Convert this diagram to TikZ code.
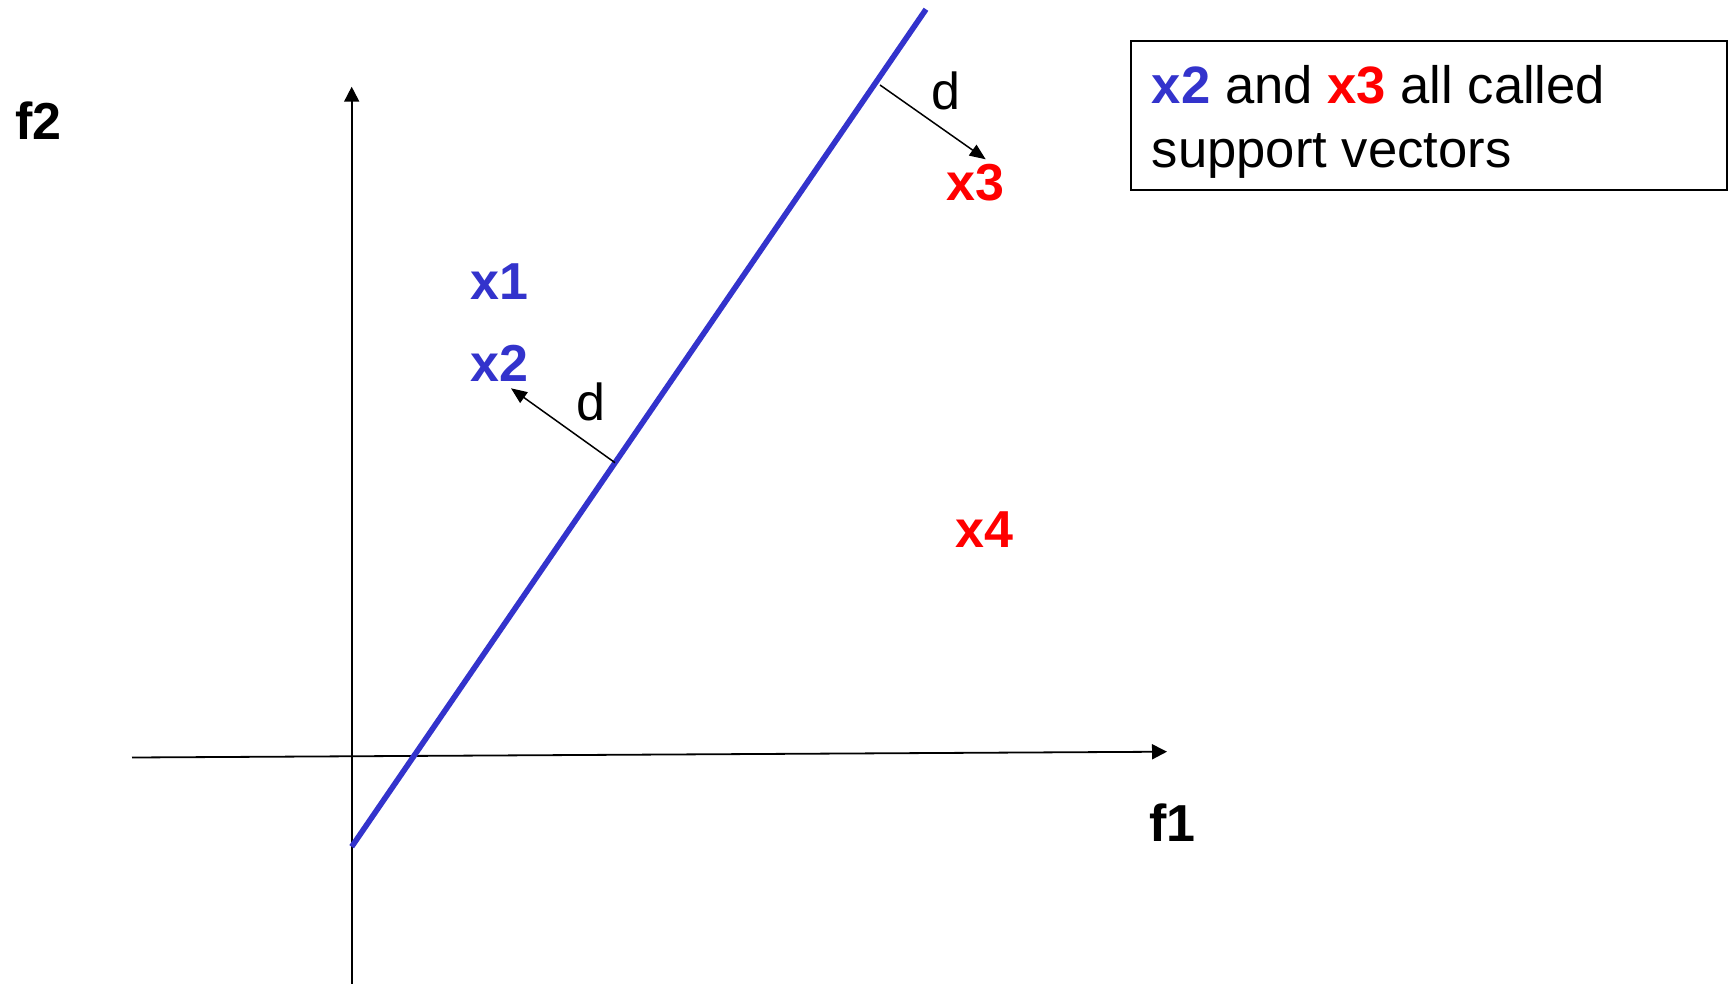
\documentclass[tikz,border=0pt]{standalone}
\usepackage{fontspec}
\setmainfont{Liberation Sans}
\usetikzlibrary{arrows.meta}
\definecolor{svblue}{RGB}{51,51,204}
\definecolor{svred}{RGB}{255,0,0}
\tikzset{
  lbl/.style={inner sep=0pt, anchor=base west, font=\fontsize{26pt}{32pt}\selectfont\bfseries},
  dlbl/.style={inner sep=0pt, anchor=base west, font=\fontsize{26pt}{32pt}\selectfont},
  axis/.style={draw=black, line width=0.9pt, -{Triangle[length=7.5pt,width=7.5pt]}},
  darrow/.style={draw=black, line width=0.75pt, -{Triangle[length=8pt,width=6.5pt]}},
  hyper/.style={draw=svblue, line width=2.8pt},
  boxstyle/.style={draw=black, line width=1pt, inner sep=0pt}
}
\begin{document}
\begin{tikzpicture}[x=0.5pt,y=-0.5pt]
\useasboundingbox (0,0) rectangle (1733,984);
% axes
\coordinate (vb) at (351.7,984);
\coordinate (vt) at (351.7,86.7);
\coordinate (hl) at (132,757.5);
\coordinate (hr) at (1167,751.7);
\draw[axis] (vb) -- (vt);
\draw[axis] (hl) -- (hr);
% separating line
\coordinate (lb) at (351.7,846.7);
\coordinate (lt) at (926,9.3);
\draw[hyper] (lb) -- (lt);
% distance arrows
\coordinate (p2) at (615,462.7);
\coordinate (t2) at (511,388.3);
\coordinate (p3) at (880,85);
\coordinate (t3) at (985.7,159.3);
\draw[darrow] (p2) -- (t2);
\draw[darrow] (p3) -- (t3);
% labels
\node[lbl] (f2) at (15,140) {f2};
\node[lbl] (f1) at (1149,841.7) {f1};
\node[lbl, text=svblue] (x1) at (470.5,299.3) {x1};
\node[lbl, text=svblue] (x2) at (470.5,381.7) {x2};
\node[lbl, text=svred] (x3) at (946.5,201) {x3};
\node[lbl, text=svred] (x4) at (955,547.7) {x4};
\node[dlbl] (d2) at (576.5,420) {d};
\node[dlbl] (d3) at (931.5,110) {d};
% legend box
\node[boxstyle, anchor=north west, minimum width=298.4pt, minimum height=74.6pt] (box) at (1129.5,40.2) {};
\node[dlbl, align=left, font=\fontsize{26.3pt}{32pt}\selectfont] (legend) at (1151.5,167.3) {\textbf{\textcolor{svblue}{x2}} and \textbf{\textcolor{svred}{x3}} all called\\support vectors};
\end{tikzpicture}
\end{document}
